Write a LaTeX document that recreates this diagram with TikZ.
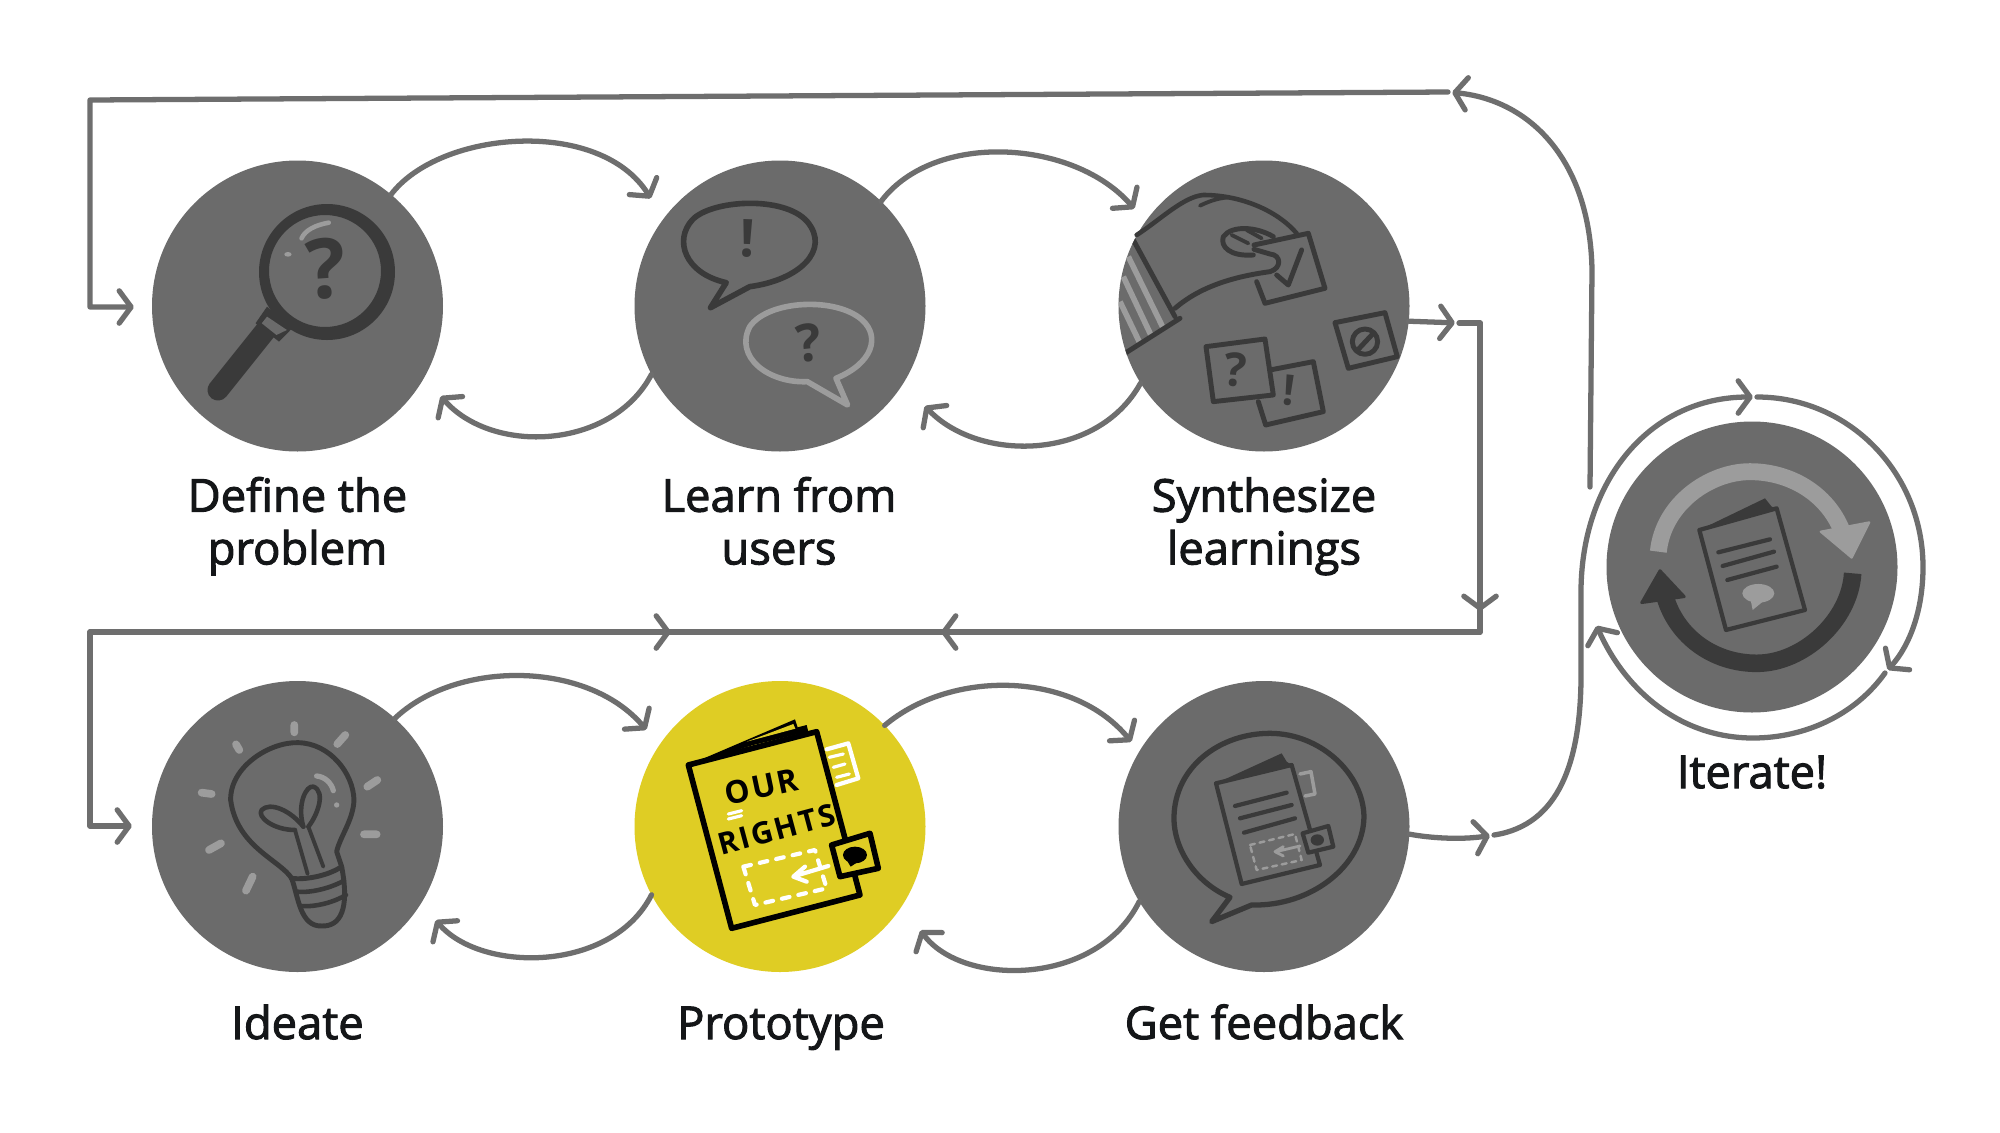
\documentclass[tikz,border=0pt]{standalone}
\usepackage{fontspec}
\usetikzlibrary{arrows.meta}
\setmainfont{Open Sans}
\newfontfamily\labfont{Open Sans}[FakeBold=2.2]
\newfontfamily\handfont{Open Sans}
\newfontfamily\coverfont{Open Sans}[LetterSpace=7]
\definecolor{disc}{HTML}{6B6B6B}
\definecolor{wire}{HTML}{6E6E6E}
\definecolor{inkc}{HTML}{3A3A3A}
\definecolor{lite}{HTML}{9C9C9C}
\definecolor{yell}{HTML}{DFCD24}
\definecolor{txt}{HTML}{141618}
\tikzset{
 disc/.style={circle,fill=disc,draw=none,minimum size=414pt,inner sep=0pt,outer sep=0pt},
 lab/.style={align=center,text=txt,font=\labfont\fontsize{64.5}{75}\selectfont,inner sep=0pt},
 conn/.style={draw=wire,line width=7.5pt,line cap=round,line join=round},
 arr/.style={conn,shorten >=6pt,-{Straight Barb[length=17pt,width=46pt,round]}},
 ink/.style={draw=inkc,line width=7pt,line cap=round,line join=round},
 thin/.style={draw=inkc,line width=5.5pt,line cap=round,line join=round},
 lit/.style={draw=lite,line width=6pt,line cap=round,line join=round},
 blk/.style={draw=black,line width=8pt,line cap=round,line join=round},
 wht/.style={draw=white,line width=5pt,line cap=round,line join=round},
 glyph/.style={inner sep=0pt,text=inkc,font=\handfont\bfseries\fontsize{#1}{#1}\selectfont},
}
\begin{document}
\begin{tikzpicture}[x=0.05cm,y=-0.05cm]
\useasboundingbox[fill=white] (0,0) rectangle (2000,1132);
% discs
\node[disc] (c1) at (297.5,306) {};
\node[disc] (c2) at (780,306) {};
\node[disc] (c3) at (1264,306) {};
\node[disc] (c4) at (297.5,826.5) {};
\node[disc,fill=yell] (c5) at (780,826.5) {};
\node[disc] (c6) at (1264,826.5) {};
\node[disc] (c7) at (1752,567) {};
% labels
\node[lab] (l1) at (297.5,527.5) {\strut Define the\\\strut problem};
\node[lab] (l2) at (779,527.5) {\strut Learn from\\\strut users};
\node[lab] (l3) at (1264,527.5) {\strut Synthesize\\\strut learnings};
\node[lab] (l4) at (297.5,1028.5) {\strut Ideate};
\node[lab] (l5) at (781,1028.5) {\strut Prototype};
\node[lab] (l6) at (1264,1028.5) {\strut Get feedback};
\node[lab] (l7) at (1752,777.5) {\strut Iterate!};
% connector ends
\coordinate (t12) at (653,202);
\coordinate (t21) at (438,393);
\coordinate (t23) at (1137,212);
\coordinate (t32) at (922,403);
\coordinate (t45) at (649,733);
\coordinate (t54) at (433,917);
\coordinate (t56) at (1134,745);
\coordinate (t65) at (918,927);
\coordinate (in1) at (138,307);
\coordinate (in4) at (136,826);
\coordinate (cnA) at (90,100);
\coordinate (cnB) at (90,632);
\coordinate (cnC) at (1480,632);
\coordinate (cnD) at (1480,323);
\coordinate (hdTop) at (1448,92);
\coordinate (hdOut) at (1459,323);
\coordinate (hdDn) at (1480,615);
\coordinate (hdL) at (937,632);
\coordinate (hdR) at (675,632);
\coordinate (hdF) at (1494,835);
\coordinate (merge) at (1590,487);
\coordinate (rTop) at (1757,397);
\coordinate (rRt) at (1885,673);
\coordinate (rLf) at (1595,622);
% loops
\draw[arr] (c1.50) .. controls (440,130) and (600,117) .. (t12);
\draw[arr] (c2.208) .. controls (612,450) and (492,455) .. (t21);
\draw[arr] (c2.46) .. controls (935,130) and (1075,140) .. (t23);
\draw[arr] (c3.212) .. controls (1097,462) and (978,462) .. (t32);
\draw[arr] (c4.48) .. controls (456,660) and (587,660) .. (t45);
\draw[arr] (c5.208) .. controls (612,973) and (481,973) .. (t54);
\draw[arr] (c5.44) .. controls (950,670) and (1072,670) .. (t56);
\draw[arr] (c6.211) .. controls (1097,987) and (962,987) .. (t65);
% long routes
\draw[arr] (merge) -- (1592,270) .. controls (1590,160) and (1530,100) .. (hdTop);
\draw[arr] (hdTop) -- (cnA) -- (90,307) -- (in1);
\draw[arr] (c3.354) -- (hdOut);
\draw[conn] (hdOut) -- (cnD) -- (hdDn);
\draw[arr] (cnD) -- (hdDn);
\draw[conn] (hdDn) -- (cnC) -- (hdL);
\draw[arr] (cnC) -- (hdL);
\draw[conn] (hdL) -- (cnB);
\draw[arr] (cnB) -- (hdR);
\draw[arr] (cnB) -- (90,826) -- (in4);
\draw[arr] (c6.357) .. controls (1430,838) and (1460,840) .. (hdF);
\draw[arr] (hdF) .. controls (1560,825) and (1580,760) .. (1581,680) -- (1581,590) .. controls (1582,480) and (1650,397) .. (rTop);
\draw[arr] (rTop) .. controls (1849,397) and (1923,473) .. (1923,567) .. controls (1923,610) and (1910,645) .. (rRt);
\draw[arr] (rRt) .. controls (1855,715) and (1805,738) .. (1753,738) .. controls (1680,738) and (1625,690) .. (rLf);
% ---- magnifier
\fill[inkc,even odd rule] (327,272) circle (68) (325,271) circle (56);
\draw[inkc,line width=30pt,line cap=round] (270,325) -- (218,390);
\begin{scope}[shift={(130,140)},xscale=0.523,yscale=0.3333]
\fill[inkc] (262,500) -- (310,565) -- (285,605) -- (240,550) -- cycle;
\fill[disc] (262,530) -- (300,570) -- (280,585) -- (252,550) -- cycle;
\draw[lit,line width=6.5pt] (328,295) .. controls (335,270) and (355,255) .. (380,248);
\fill[lite] (302,343) circle (7);
\node[glyph=118,rotate=4] (qm1) at (375,385) {?};
% bubbles
\draw[ink,line width=8pt] (1140,428) .. controls (1060,400) and (1040,300) .. (1075,240) .. controls (1110,180) and (1250,165) .. (1295,245) .. controls (1340,330) and (1280,420) .. (1185,440) -- (1110,503) -- cycle;
\node[glyph=74,rotate=-2] (ex2) at (1181,297) {!};
\draw[lit,line width=8pt] (1350,715) .. controls (1420,670) and (1435,590) .. (1400,540) .. controls (1350,470) and (1220,480) .. (1185,560) .. controls (1155,650) and (1220,730) .. (1295,725) -- (1372,795) -- cycle;
\node[glyph=74,rotate=6] (qm2) at (1298,608) {?};
\end{scope}
% ---- hand and notes
\begin{scope}
\clip (1264,306) circle (145.5);
\begin{scope}[shift={(1100,140)},scale=0.3333]
\draw[lite,line width=8pt] (85,350) -- (190,565) (70,410) -- (155,590) (60,485) -- (120,610);
\draw[ink] (100,300) -- (225,530) (75,640) -- (240,535);
\end{scope}
\end{scope}
\begin{scope}[shift={(1100,140)},scale=0.3333]
\draw[thin,line width=6.5pt] (110,285) .. controls (180,240) and (250,170) .. (310,165) .. controls (420,165) and (530,210) .. (590,280);
\draw[thin] (300,197) .. controls (325,185) and (350,175) .. (385,172);
\draw[thin,line width=7pt] (225,505) .. controls (300,440) and (400,410) .. (510,395) .. controls (545,385) and (545,345) .. (510,342) -- (462,328);
\draw[thin,line width=7pt] (460,345) .. controls (390,350) and (360,320) .. (370,290) .. controls (395,255) and (470,260) .. (520,290);
\draw[thin] (395,285) -- (445,310) (440,270) -- (485,295);
\draw[thin,line width=7pt] (462,315) -- (625,280) -- (675,445) -- (495,490) -- (470,425);
\draw[thin,line width=7pt] (530,405) -- (565,435) -- (605,330);
\draw[thin,line width=7pt] (705,548) -- (855,518) -- (892,650) -- (745,685) -- cycle;
\draw[thin,line width=7pt] (795,605) circle (38);
\draw[thin,line width=7pt] (775,628) -- (818,582);
\draw[thin,line width=7pt] (318,620) -- (495,597) -- (520,765) -- (340,785) -- cycle;
\node[glyph=66,rotate=-4] (qm3) at (408,690) {?};
\draw[thin,line width=7pt] (510,690) -- (640,665) -- (670,815) -- (497,855) -- (475,785);
\node[glyph=60,rotate=-6] (ex3) at (567,750) {!};
\end{scope}
% ---- light bulb
\begin{scope}[shift={(140,670)},scale=0.3333]
\draw[ink,line width=7pt] (455,625) .. controls (420,570) and (290,530) .. (272,390) .. controls (270,290) and (390,215) .. (475,218) .. controls (570,220) and (640,310) .. (642,390) .. controls (640,450) and (600,500) .. (590,545) -- (605,590);
\draw[ink,line width=7pt] (455,625) .. controls (490,630) and (560,620) .. (605,590);
\draw[ink,line width=6.5pt] (470,665) .. controls (520,670) and (580,650) .. (612,632);
\draw[ink,line width=6.5pt] (482,708) .. controls (530,712) and (585,695) .. (618,675);
\draw[ink,line width=7pt] (455,625) .. controls (475,680) and (480,770) .. (545,768) .. controls (600,770) and (630,720) .. (605,590);
\draw[ink,line width=5.5pt] (503,612) -- (465,480);
\draw[ink,line width=5.5pt] (550,590) -- (505,470);
\draw[ink,line width=6.5pt] (465,480) .. controls (400,480) and (350,440) .. (365,420) .. controls (390,395) and (450,420) .. (490,470);
\draw[ink,line width=6.5pt] (490,470) .. controls (470,400) and (500,345) .. (520,350) .. controls (560,365) and (530,440) .. (505,470);
\draw[lit,line width=11pt] (463,165) -- (463,187) (288,223) -- (298,240) (592,222) -- (616,195) (682,350) -- (712,330) (185,368) -- (215,372) (672,493) -- (710,493) (207,540) -- (243,520) (318,662) -- (338,620);
\draw[lit,line width=7.5pt] (530,318) .. controls (555,320) and (575,340) .. (580,362);
\fill[lite] (590,405) circle (8);
\end{scope}
% ---- prototype booklet
\begin{scope}[shift={(620,670)},scale=0.3333]
\draw[wht,line width=6pt] (620,238) -- (685,220) -- (715,325) -- (650,345);
\draw[wht,line width=4.5pt] (628,262) -- (670,252) (640,292) -- (675,282) (650,322) -- (688,312);
\fill[black] (205,285) -- (525,148) -- (533,172) -- (560,165) -- (565,185) -- (400,225) -- cycle;
\fill[yell] (380,215) -- (520,162) -- (526,176) -- cycle;
\draw[blk] (205,285) -- (590,185) -- (720,675) -- (335,775) -- cycle;
\node[text=black,inner sep=0pt,rotate=12,font=\coverfont\bfseries\fontsize{45}{45}\selectfont] (our) at (425,350) {OUR};
\node[text=black,inner sep=0pt,rotate=15,font=\coverfont\bfseries\fontsize{43}{43}\selectfont] (rights) at (470,478) {RIGHTS};
\draw[wht,line width=4.5pt] (325,432) -- (365,422) (325,447) -- (365,437);
\draw[wht,line width=6pt,dash pattern=on 11pt off 13pt] (370,590) -- (585,540) -- (620,655) -- (405,705) -- cycle;
\draw[wht,line width=6pt] (625,588) -- (525,618) (555,590) -- (520,620) -- (560,635);
\filldraw[yell,draw=black,line width=8pt,line join=round] (635,525) -- (750,490) -- (775,595) -- (660,620) -- cycle;
\fill[black] (705,555) ellipse (36 and 25);
\fill[black] (680,570) -- (692,590) -- (715,575) -- cycle;
\end{scope}
% ---- feedback
\begin{scope}[shift={(1110,670)},scale=0.3333]
\draw[ink,line width=7.5pt] (360,682) .. controls (260,640) and (190,540) .. (192,440) .. controls (195,290) and (330,190) .. (480,190) .. controls (630,190) and (760,310) .. (762,440) .. controls (760,590) and (600,710) .. (425,705) -- (305,755) -- cycle;
\draw[lit,line width=5pt] (570,312) -- (603,305) -- (615,372) -- (585,378);
\fill[inkc] (318,340) -- (515,250) -- (530,275) -- (545,285) -- cycle;
\draw[ink,line width=6pt] (318,340) -- (545,285) -- (630,585) -- (395,642) -- cycle;
\draw[ink,line width=6pt] (375,408) -- (530,368) (390,445) -- (545,405) (402,488) -- (555,445);
\draw[lit,line width=3.5pt,dash pattern=on 7pt off 7pt] (420,525) -- (555,492) -- (575,570) -- (440,600) -- cycle;
\draw[lit,line width=4pt] (570,528) -- (498,545) (520,530) -- (495,545) -- (520,558);
\filldraw[disc,draw=inkc,line width=6pt,line join=round] (578,490) -- (655,468) -- (670,530) -- (595,548) -- cycle;
\fill[inkc] (622,510) ellipse (20 and 17);
\end{scope}
% ---- iterate
\begin{scope}[shift={(1570,380)},scale=0.3333]
\draw[lite,line width=24pt] (265,515) .. controls (280,370) and (420,275) .. (540,275) .. controls (660,275) and (770,340) .. (815,450);
\filldraw[lite,draw=lite,line width=3pt,line join=round] (752,455) -- (898,427) -- (845,533) -- cycle;
\draw[inkc,line width=25pt] (848,580) .. controls (840,720) and (700,850) .. (560,850) .. controls (430,850) and (320,770) .. (285,650);
\filldraw[inkc,draw=inkc,line width=4pt,line join=round] (270,572) -- (343,650) -- (215,668) -- cycle;
\fill[inkc] (388,450) -- (585,355) -- (605,380) -- (620,385) -- cycle;
\draw[ink,line width=6pt] (388,450) -- (620,385) -- (705,690) -- (468,750) -- cycle;
\draw[ink,line width=6pt] (445,517) -- (600,478) (458,558) -- (612,515) (472,600) -- (620,560);
\fill[lite] (565,640) ellipse (48 and 28);
\fill[lite] (542,660) -- (548,690) -- (582,662) -- cycle;
\end{scope}
\end{tikzpicture}
\end{document}
